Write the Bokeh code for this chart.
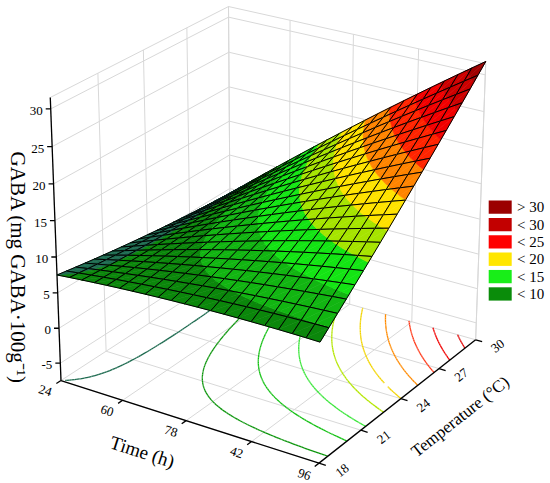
import numpy as np
from bokeh.plotting import figure
from bokeh.models import Range1d
from bokeh.embed import file_html
from bokeh.resources import INLINE
from bokeh.core.properties import value

# ---------------- values ----------------
time_range = [24.0, 96.0]
temp_range = [18.0, 30.0]
gaba_range = [-7.5, 31.5]

time_ticks = [24, 42, 60, 78, 96]
time_tick_labels = ["24", "60", "78", "42", "96"]
temp_ticks = [18, 21, 24, 27, 30]
temp_tick_labels = ["18", "21", "24", "27", "30"]
gaba_ticks = [-5, 0, 5, 10, 15, 20, 25, 30]
gaba_tick_labels = ["-5", "0", "5", "10", "15", "20", "25", "30"]

# fitted second-order response surface; u = scaled time (0..1), v = scaled temperature (0..1)
surface_terms = ["1", "u", "v", "u*u", "v*v", "u*v"]
surface_coef = [7.5, 3.4, -4.71, -2.0, 1.5, 26.11]

band_edges = [5, 7.5, 10, 12.5, 15, 17.5, 20, 22.5, 25, 27.5, 30]
band_colors = ["#135c5c", "#1e6b50", "#0b870b", "#12b512", "#14e414", "#a6e400",
               "#ffe200", "#ff8400", "#ff2400", "#f00000", "#cc0000", "#a00000"]
contour_levels = [7.5, 10, 12.5, 15, 17.5, 20, 22.5, 25, 27.5, 30]
contour_colors = ["#1e6b50", "#0e960e", "#12c012", "#3ae63a", "#b4e600", "#f2d400",
                  "#ff8a00", "#ff3a1a", "#f00000", "#e00000"]

legend_labels = ["> 30", "< 30", "< 25", "< 20", "< 15", "< 10"]
legend_colors = ["#9b0000", "#c20000", "#ff0000", "#ffe600", "#18ee18", "#0a8c0a"]

time_title = "Time (h)"
temp_title = "Temperature (\u00b0C)"
gaba_title = "GABA (mg GABA\u00b7100g\u207b\u00b9)"

# ---------------- view (camera) settings ----------------
AZIMUTH = np.radians(33.0)
ELEVATION = np.radians(24.5)
CAM_DIST = 8.5
SCALE = 307.0
CX, CY = 271.0, 223.0
BOX = (1.0, 1.0, 1.0)
N_MESH = 20
SERIF = value("Liberation Serif")


def project(u, v, w):
    u = np.asarray(u, float); v = np.asarray(v, float); w = np.asarray(w, float)
    X = (u - 0.5) * BOX[0]; Y = (v - 0.5) * BOX[1]; Z = (w - 0.5) * BOX[2]
    ca, sa = np.cos(AZIMUTH), np.sin(AZIMUTH)
    ce, se = np.cos(ELEVATION), np.sin(ELEVATION)
    right = X * ca + Y * sa
    toward = X * sa - Y * ca
    up = Z * ce - toward * se
    depth = toward * ce + Z * se
    k = CAM_DIST / (CAM_DIST - depth)
    return CX + SCALE * right * k, CY - SCALE * up * k, depth


def su(t):
    return (np.asarray(t, float) - time_range[0]) / (time_range[1] - time_range[0])


def sv(T):
    return (np.asarray(T, float) - temp_range[0]) / (temp_range[1] - temp_range[0])


def sw(z):
    return (np.asarray(z, float) - gaba_range[0]) / (gaba_range[1] - gaba_range[0])


def gaba(u, v):
    c = surface_coef
    return c[0] + c[1] * u + c[2] * v + c[3] * u * u + c[4] * v * v + c[5] * u * v


def clip(poly, level, keep_above):
    out = []
    n = len(poly)
    for i in range(n):
        a = poly[i]; b = poly[(i + 1) % n]
        ina = a[2] >= level if keep_above else a[2] < level
        inb = b[2] >= level if keep_above else b[2] < level
        if ina:
            out.append(a)
        if ina != inb:
            t = (level - a[2]) / (b[2] - a[2])
            out.append(tuple(a[k] + t * (b[k] - a[k]) for k in range(3)))
    return out


p = figure(width=550, height=483, x_range=Range1d(0, 550), y_range=Range1d(483, 0),
           output_backend="svg", toolbar_location=None, min_border=0,
           x_axis_type=None, y_axis_type=None, background_fill_color="white",
           border_fill_color="white", outline_line_color=None)
p.grid.visible = False

# ---------------- grey box grid ----------------
gx, gy = [], []


def add_line(a, b, store_x, store_y):
    x, y, _ = project([a[0], b[0]], [a[1], b[1]], [a[2], b[2]])
    store_x.append(list(x)); store_y.append(list(y))


tu = su(time_ticks); tv = sv(temp_ticks); tw = list(sw(gaba_ticks)) + [1.0]
for u in tu:
    add_line((u, 0, 0), (u, 1, 0), gx, gy)
    add_line((u, 1, 0), (u, 1, 1), gx, gy)
for v in tv:
    add_line((0, v, 0), (1, v, 0), gx, gy)
    add_line((0, v, 0), (0, v, 1), gx, gy)
for w in tw:
    add_line((0, 0, w), (0, 1, w), gx, gy)
    add_line((0, 1, w), (1, 1, w), gx, gy)
add_line((1, 1, 0), (1, 1, 1), gx, gy)
p.multi_line(gx, gy, line_color="#d8d8d8", line_width=1)

# ---------------- floor contours ----------------
NC = 90
gu = np.linspace(0, 1, NC + 1)
GU, GV = np.meshgrid(gu, gu, indexing="ij")
GZ = gaba(GU, GV)
sx0, sy0, sx1, sy1, scol = [], [], [], [], []
for lev, col in zip(contour_levels, contour_colors):
    for i in range(NC):
        for j in range(NC):
            cs = [(GU[i, j], GV[i, j], GZ[i, j]), (GU[i + 1, j], GV[i + 1, j], GZ[i + 1, j]),
                  (GU[i + 1, j + 1], GV[i + 1, j + 1], GZ[i + 1, j + 1]), (GU[i, j + 1], GV[i, j + 1], GZ[i, j + 1])]
            pts = []
            for k in range(4):
                a = cs[k]; b = cs[(k + 1) % 4]
                if (a[2] - lev) * (b[2] - lev) < 0:
                    t = (lev - a[2]) / (b[2] - a[2])
                    pts.append((a[0] + t * (b[0] - a[0]), a[1] + t * (b[1] - a[1])))
            for q in range(0, len(pts) - 1, 2):
                (u0, v0), (u1, v1) = pts[q], pts[q + 1]
                x, y, _ = project([u0, u1], [v0, v1], [0, 0])
                sx0.append(x[0]); sy0.append(y[0]); sx1.append(x[1]); sy1.append(y[1]); scol.append(col)
p.segment(sx0, sy0, sx1, sy1, line_color=scol, line_width=1.3)

# ---------------- black axes ----------------
ax, ay = [], []
add_line((0, 0, 0), (0, 0, 1), ax, ay)
add_line((0, 0, 0), (1, 0, 0), ax, ay)
add_line((1, 0, 0), (1, 1, 0), ax, ay)
for u in tu:
    add_line((u, 0, 0), (u, -0.025, 0), ax, ay)
for v in tv:
    add_line((1, v, 0), (1.025, v, 0), ax, ay)
zx, zy, _ = project(np.zeros(len(gaba_ticks)), np.zeros(len(gaba_ticks)), sw(gaba_ticks))
for x, y in zip(zx, zy):
    ax.append([x, x - 5]); ay.append([y, y])
p.multi_line(ax, ay, line_color="black", line_width=1.3)

# ---------------- surface ----------------
ext_edges = [-np.inf] + band_edges + [np.inf]
mesh = np.linspace(0, 1, N_MESH + 1)
cells = []
for i in range(N_MESH):
    for j in range(N_MESH):
        uc = (mesh[i] + mesh[i + 1]) / 2; vc = (mesh[j] + mesh[j + 1]) / 2
        _, _, d = project(uc, vc, sw(gaba(uc, vc)))
        cells.append((float(d), i, j))
cells.sort()

px, py, pf, pl, pw, pfa = [], [], [], [], [], []
for _, i, j in cells:
    cu = [mesh[i], mesh[i + 1], mesh[i + 1], mesh[i]]
    cv = [mesh[j], mesh[j], mesh[j + 1], mesh[j + 1]]
    cz = [gaba(a, b) for a, b in zip(cu, cv)]
    corners = list(zip(cu, cv, cz))
    for tri in ([corners[0], corners[1], corners[2]], [corners[0], corners[2], corners[3]]):
        zs = [c[2] for c in tri]
        b0 = int(np.searchsorted(band_edges, min(zs), side="right"))
        b1 = int(np.searchsorted(band_edges, max(zs), side="right"))
        for b in range(b0, b1 + 1):
            poly = tri
            if np.isfinite(ext_edges[b]):
                poly = clip(poly, ext_edges[b], True)
            if len(poly) >= 3 and np.isfinite(ext_edges[b + 1]):
                poly = clip(poly, ext_edges[b + 1], False)
            if len(poly) >= 3:
                x, y, _ = project([q[0] for q in poly], [q[1] for q in poly], sw([q[2] for q in poly]))
                px.append(list(x)); py.append(list(y))
                pf.append(band_colors[b]); pl.append(band_colors[b]); pw.append(0.6); pfa.append(1.0)
    x, y, _ = project(cu, cv, sw(cz))
    px.append(list(x)); py.append(list(y))
    pf.append("black"); pl.append("black"); pw.append(1.0); pfa.append(0.0)
p.patches(px, py, fill_color=pf, fill_alpha=pfa, line_color=pl, line_width=pw)

# ---------------- labels ----------------
def screen_angle(a, b):
    x, y, _ = project([a[0], b[0]], [a[1], b[1]], [a[2], b[2]])
    return float(np.arctan2(-(y[1] - y[0]), x[1] - x[0]))


ang_time = screen_angle((0, 0, 0), (1, 0, 0))
ang_temp = screen_angle((1, 0, 0), (1, 1, 0))

lx, ly, _ = project(tu, -0.085 * np.ones(len(tu)), np.zeros(len(tu)))
p.text(lx, ly, text=time_tick_labels, angle=ang_time, text_align="center", text_baseline="middle",
       text_font=SERIF, text_font_size="13px", text_color="black")
lx, ly, _ = project(1.085 * np.ones(len(tv)), tv, np.zeros(len(tv)))
p.text(lx, ly, text=temp_tick_labels, angle=ang_temp, text_align="center", text_baseline="middle",
       text_font=SERIF, text_font_size="13px", text_color="black")
p.text(zx - 8, zy + 2, text=gaba_tick_labels, text_align="right", text_baseline="middle",
       text_font=SERIF, text_font_size="13px", text_color="black")

tx, ty, _ = project([0.5], [-0.24], [0])
p.text(tx, ty, text=[time_title], angle=ang_time, text_align="center", text_baseline="middle",
       text_font=SERIF, text_font_size="19px", text_color="black")
tx, ty, _ = project([1.22], [0.5], [0])
p.text(tx, ty, text=[temp_title], angle=ang_temp, text_align="center", text_baseline="middle",
       text_font=SERIF, text_font_size="17px", text_color="black")
tx, ty, _ = project([0], [0], [0.41])
p.text(tx - 39, ty, text=[gaba_title], angle=-np.pi / 2, text_align="center", text_baseline="middle",
       text_font=SERIF, text_font_size="21px", text_color="black")

# ---------------- legend ----------------
leg_y = [206.7 + 17.35 * k for k in range(len(legend_labels))]
p.rect(x=[499.7] * len(leg_y), y=leg_y, width=23, height=13.3, fill_color=legend_colors, line_color=None)
p.text(x=[516.5] * len(leg_y), y=leg_y, text=legend_labels, text_align="left", text_baseline="middle",
       text_font=SERIF, text_font_size="15px", text_color="black")

open("out.html", "w").write(file_html(p, INLINE))
